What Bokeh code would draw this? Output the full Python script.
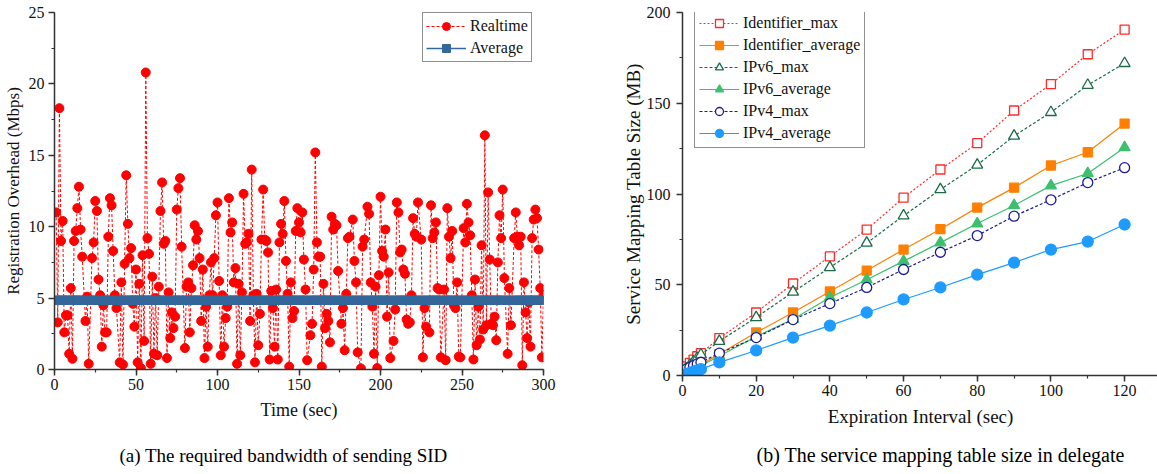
from bokeh.plotting import figure
from bokeh.layouts import row
from bokeh.models import Range1d, Legend, LegendItem, Title, SingleIntervalTicker
from bokeh.embed import file_html
from bokeh.resources import INLINE

# ---------------- data: (a) registration overhead ----------------
rt_time = [
    1, 2, 3, 4, 5, 6, 7, 8, 9, 10,
    11, 12, 13, 14, 15, 16, 17, 19, 20, 21,
    23, 24, 25, 26, 27, 28, 29, 30, 31, 32,
    33, 34, 35, 36, 37, 38, 40, 41, 42, 43,
    44, 45, 46, 47, 48, 49, 50, 51, 52, 53,
    54, 55, 56, 57, 58, 59, 60, 61, 62, 63,
    64, 65, 66, 67, 68, 69, 70, 71, 72, 73,
    74, 75, 76, 77, 78, 80, 81, 82, 83, 84,
    85, 86, 87, 88, 89, 90, 91, 92, 93, 94,
    95, 96, 97, 98, 99, 100, 101, 102, 103, 104,
    105, 106, 107, 108, 109, 110, 111, 112, 113, 114,
    115, 116, 117, 118, 119, 120, 121, 122, 123, 124,
    125, 126, 127, 128, 129, 130, 131, 132, 133, 134,
    135, 136, 137, 138, 139, 140, 141, 142, 143, 144,
    145, 146, 147, 148, 149, 150, 151,
    152, 153, 154, 155, 157, 158, 159, 160, 161, 162,
    163, 164, 165, 166, 167, 168, 169, 170, 171, 172,
    173, 174, 176, 177, 178, 179, 180, 181, 183, 184,
    185, 186, 188, 189, 190, 192, 193, 194, 195, 196,
    197, 198, 199, 200, 201, 202, 203, 204, 205, 206,
    208, 209, 210, 211, 212, 213, 214, 215, 216, 217,
    218, 219, 220, 221, 222, 223, 225, 226, 227, 228,
    230, 231, 232, 233, 234, 235, 236, 237, 239, 240,
    241, 242, 243, 244, 245, 246, 247, 248, 249, 251,
    252, 253, 254, 255, 256, 257, 258, 259, 260, 261,
    262, 263, 264, 265, 266, 267, 268, 269, 270, 271,
    272, 273, 274, 275, 276, 278, 279, 280, 282, 283,
    284, 285, 286, 287, 288, 289, 290, 291, 292, 293,
    294, 295, 296, 297, 298, 299, 300,
]
rt_mbps = [
    11.0, 3.3, 18.3, 9.0, 10.4, 2.6, 3.8, 3.8, 1.1, 5.7,
    0.75, 9.0, 9.7, 11.3, 12.8, 9.8, 7.9, 3.4, 5.1, 0.4,
    7.8, 8.9, 11.8, 11.1, 6.3, 5.2, 1.6, 4.5, 2.6, 2.6,
    9.3, 12.0, 11.5, 8.3, 5.2, 4.3, 0.5, 6.1, 0.35, 7.4,
    13.6, 10.2, 7.8, 8.5, 4.6, 3.0, 7.0, 0.5, 6.0, 0.1,
    8.0, 2.0, 20.8, 9.2, 8.1, 0.4, 6.5, 1.1, 5.0, 1.0,
    5.8, 11.1, 13.1, 8.8, 9.0, 0.8, 5.4, 2.2, 4.0, 2.9,
    3.7, 11.2, 12.7, 13.4, 8.6, 1.5, 5.8, 6.1, 2.6, 5.7,
    7.3, 10.1, 9.1, 9.7, 7.8, 3.4, 7.0, 0.8, 4.4, 1.6,
    5.2, 7.5, 5.2, 7.8, 10.8, 11.7, 6.2, 1.0, 5.2, 1.6,
    3.6, 4.4, 12.0, 9.6, 10.3, 6.1, 7.1, 0.4, 6.0, 1.0,
    5.4, 12.3, 8.8, 8.9, 9.5, 3.4, 14.0, 5.2, 0.5, 5.3,
    1.7, 3.9, 9.1, 12.6, 9.1, 9.0, 8.2, 0.7, 5.5, 4.3,
    1.6, 5.6, 0.7, 8.9, 10.2, 9.5, 11.8, 7.6, 5.3, 0.2,
    6.1, 3.6, 4.1, 9.7, 11.3, 10.3, 9.6,
    11.0, 7.7, 5.6, 0.65, 2.4, 3.2, 7.0, 15.2, 8.9, 7.9,
    7.9, 0.2, 6.0, 2.9, 3.9, 3.4, 1.9, 10.7, 9.8, 10.2,
    10.1, 6.9, 3.2, 4.3, 1.35, 5.3, 9.2, 9.3, 10.5, 7.6,
    6.1, 1.2, 0.07, 8.6, 9.1, 11.4, 10.9, 6.1, 4.4, 1.1,
    5.8, 0.1, 6.6, 12.1, 8.3, 7.9, 9.8, 3.7, 6.8, 0.8,
    2.0, 4.2, 11.7, 11.0, 8.2, 8.4, 7.0, 6.7, 3.5, 3.2,
    3.3, 5.2, 10.6, 9.5, 9.3, 11.7, 9.1, 0.85, 4.3, 3.0,
    2.6, 11.5, 9.2, 9.6, 10.3, 5.7, 5.6, 0.85, 5.6, 0.65,
    11.3, 9.3, 7.8, 9.7, 4.5, 4.3, 6.1, 0.9, 0.85, 9.9,
    8.9, 11.6, 10.3, 9.4, 5.2, 0.7, 6.3, 1.7, 4.4, 2.1,
    8.7, 2.8, 16.4, 3.1, 12.4, 7.7, 3.2, 3.1, 3.7, 2.05,
    7.5, 10.8, 9.2, 12.6, 6.4, 1.1, 5.7, 3.1, 9.2, 11.0,
    9.3, 8.7, 9.3, 0.3, 6.1, 4.0, 2.2, 4.7, 1.6, 9.2,
    10.5, 11.2, 10.6, 8.4, 5.7, 0.85, 5.2,
]
avg_level = 4.85

# ---------------- data: (b) service mapping table size ----------------
exp_interval = [1, 2, 3, 4, 5, 10, 20, 30, 40, 50, 60, 70, 80, 90, 100, 110, 120]
identifier_max = [5.0, 7.0, 8.8, 10.6, 12.3, 20.6, 34.7, 50.7, 65.6, 80.4, 98.0, 113.5, 128.0, 146.0, 160.5, 177.0, 190.6]
identifier_average = [1.3, 2.5, 3.6, 4.8, 6.0, 11.8, 23.7, 34.7, 46.3, 57.8, 69.4, 80.6, 92.5, 103.5, 115.7, 123.0, 138.8]
ipv6_max = [3.8, 5.8, 7.7, 9.6, 11.5, 18.9, 32.0, 46.0, 59.5, 73.0, 88.0, 102.5, 116.0, 132.0, 145.0, 160.0, 172.0]
ipv6_average = [1.1, 2.2, 3.3, 4.4, 5.4, 10.7, 21.5, 31.0, 43.0, 52.8, 63.0, 73.2, 83.7, 93.7, 104.6, 111.3, 125.6]
ipv4_max = [3.5, 4.5, 5.5, 6.4, 7.3, 12.3, 20.9, 30.8, 39.6, 48.5, 58.4, 67.9, 77.1, 87.8, 96.8, 106.3, 114.5]
ipv4_average = [0.7, 1.4, 2.1, 2.8, 3.5, 7.2, 13.8, 20.9, 27.5, 34.7, 41.9, 48.5, 55.6, 62.2, 69.4, 73.8, 83.2]

FONT = "Liberation Serif"


def style_axes(p, xint, yint, ystand, xlab_size, ylab_size, ylab_standoff):
    p.xaxis.ticker = SingleIntervalTicker(interval=xint, num_minor_ticks=2)
    p.yaxis.ticker = SingleIntervalTicker(interval=yint, num_minor_ticks=2)
    for ax in (p.xaxis[0], p.yaxis[0]):
        ax.axis_line_color = "#333333"
        ax.axis_line_width = 1.5
        ax.major_tick_line_color = "#333333"
        ax.major_tick_line_width = 1.5
        ax.minor_tick_line_color = "#333333"
        ax.minor_tick_line_width = 1.2
        ax.major_tick_in = 0
        ax.major_tick_out = 6
        ax.minor_tick_in = 0
        ax.minor_tick_out = 3
        ax.major_label_text_font = FONT
        ax.major_label_text_font_size = "16px"
        ax.major_label_text_color = "#111111"
        ax.axis_label_text_font = FONT
        ax.axis_label_text_font_style = "normal"
        ax.axis_label_text_color = "#111111"
    p.xaxis.axis_label_text_font_size = xlab_size
    p.yaxis.axis_label_text_font_size = ylab_size
    p.xaxis.major_label_standoff = 3
    p.yaxis.major_label_standoff = ystand
    p.xaxis.axis_label_standoff = 7
    p.yaxis.axis_label_standoff = ylab_standoff
    p.xgrid.visible = False
    p.ygrid.visible = False
    p.outline_line_color = None


def style_legend(lg, pad):
    lg.label_text_font = FONT
    lg.label_text_font_size = "16px"
    lg.label_text_color = "#111111"
    lg.border_line_color = "#222222"
    lg.border_line_width = 1.5
    lg.padding = pad
    lg.spacing = 2
    lg.margin = 0
    lg.glyph_width = 40
    lg.glyph_height = 20
    lg.label_height = 20
    lg.label_standoff = 4
    lg.background_fill_alpha = 1.0


# ---------------- figure (a) ----------------
p1 = figure(frame_width=489, frame_height=357, min_border_left=53, min_border_right=58,
            min_border_top=12, min_border_bottom=105,
            x_range=Range1d(0, 300), y_range=Range1d(0, 25),
            output_backend="svg", toolbar_location=None)
style_axes(p1, 50, 5, 4, "18px", "17px", 3)
p1.xaxis.axis_label = "Time (sec)"
p1.yaxis.axis_label = "Registration Overhead (Mbps)"

rt_line = p1.line(rt_time, rt_mbps, line_color="#ff0000", line_width=1, line_dash="3 2")
rt_dots = p1.scatter(rt_time, rt_mbps, marker="circle", size=9, fill_color="#ff0000", line_color="#ff0000")
avg_vals = [avg_level] * len(rt_time)
avg_line = p1.line(rt_time, avg_vals, line_color="#34679a", line_width=1.5)
avg_sq = p1.scatter(rt_time, avg_vals, marker="square", size=8, fill_color="#34679a", line_color="#34679a")

lg1 = Legend(items=[LegendItem(label="Realtime", renderers=[rt_line, rt_dots]),
                    LegendItem(label="Average", renderers=[avg_line, avg_sq])],
             location=(368, 307))
style_legend(lg1, 3)
p1.add_layout(lg1)

cap1 = Title(text="(a) The required bandwidth of sending SID", align="left", offset=65,
             text_font=FONT, text_font_size="19px", text_font_style="normal", text_color="#000000",
             standoff=40)
p1.add_layout(cap1, "below")

# ---------------- figure (b) ----------------
p2 = figure(frame_width=476, frame_height=363, min_border_left=81, min_border_right=0,
            min_border_top=12, min_border_bottom=97,
            x_range=Range1d(0, 129.2), y_range=Range1d(0, 200),
            output_backend="svg", toolbar_location=None)
style_axes(p2, 20, 50, 6, "19px", "19px", 0)
p2.xaxis.axis_label = "Expiration Interval (sec)"
p2.yaxis.axis_label = "Service Mapping Table Size (MB)"

series = [
    ("Identifier_max", identifier_max, "#ff2a2a", "2 2", "square", False, 9),
    ("Identifier_average", identifier_average, "#ff8000", "solid", "square", True, 9),
    ("IPv6_max", ipv6_max, "#1b6b48", "3 2", "triangle", False, 11),
    ("IPv6_average", ipv6_average, "#3dbf6e", "solid", "triangle", True, 11),
    ("IPv4_max", ipv4_max, "#1c1c99", "3 2", "circle", False, 10),
    ("IPv4_average", ipv4_average, "#1e9bff", "solid", "circle", True, 11),
]
items = []
for name, vals, col, dash, mk, filled, sz in series:
    ln = p2.line(exp_interval, vals, line_color=col, line_width=1.2, line_dash=dash)
    sc = p2.scatter(exp_interval, vals, marker=mk, size=sz, line_color=col, line_width=1.3,
                    fill_color=col if filled else "white")
    items.append(LegendItem(label=name, renderers=[ln, sc]))

lg2 = Legend(items=items, location=(12, 227))
style_legend(lg2, 4)
p2.add_layout(lg2)

cap2 = Title(text="(b) The service mapping table size in delegate", align="left", offset=74,
             text_font=FONT, text_font_size="20px", text_font_style="normal", text_color="#000000",
             standoff=25)
p2.add_layout(cap2, "below")

layout = row(p1, p2)
open("out.html", "w").write(file_html(layout, INLINE))
